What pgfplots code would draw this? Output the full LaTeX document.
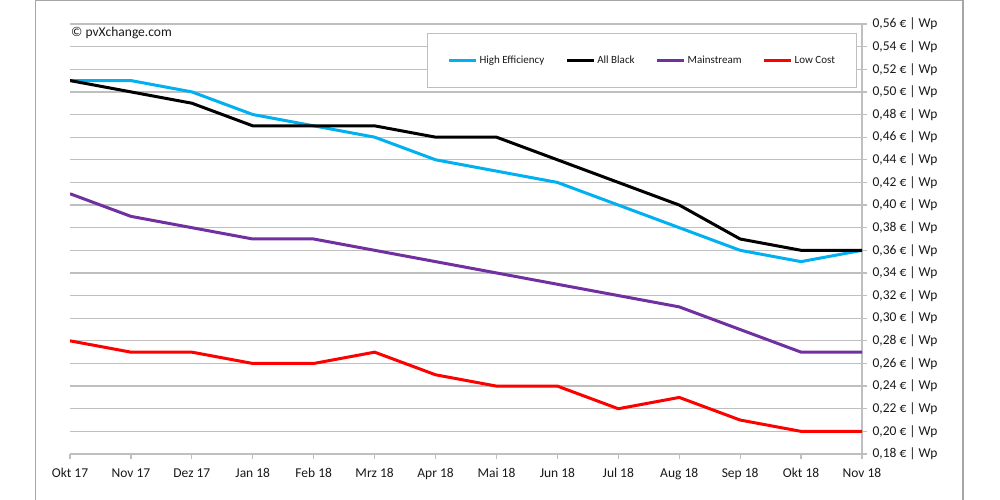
\documentclass[border=0pt]{standalone}
\usepackage{pgfplots}
\pgfplotsset{compat=1.18}
\usepackage{fontspec}
\setmainfont{Carlito}
\definecolor{hieff}{HTML}{00B0F0}
\definecolor{mainst}{HTML}{7030A0}
\definecolor{lowc}{HTML}{FF0000}
\definecolor{gridc}{HTML}{BFBFBF}
\definecolor{framec}{HTML}{A6A6A6}
\begin{document}
\begin{tikzpicture}
\useasboundingbox (0pt,0pt) rectangle (1000pt,500pt);
\draw[framec, line width=1.3pt] (35.5pt,-2pt) -- (35.5pt,499.4pt) -- (963pt,499.4pt) -- (963pt,-2pt);
\node[anchor=west, font=\fontsize{13.5}{15}\selectfont, text=black!90, inner sep=0pt] at (71pt,467pt) {© pvXchange.com};
\begin{axis}[
  at={(70pt,46pt)}, anchor=south west, scale only axis,
  width=792pt, height=430pt,
  xmin=0, xmax=13, ymin=0.18, ymax=0.56,
  axis x line*=bottom, axis y line*=right,
  xtick={0,...,13},
  xticklabels={Okt 17,Nov 17,Dez 17,Jan 18,Feb 18,Mrz 18,Apr 18,Mai 18,Jun 18,Jul 18,Aug 18,Sep 18,Okt 18,Nov 18},
  ytick={0.18,0.20,0.22,0.24,0.26,0.28,0.30,0.32,0.34,0.36,0.38,0.40,0.42,0.44,0.46,0.48,0.50,0.52,0.54,0.56},
  yticklabel={\pgfmathprintnumber[fixed,fixed zerofill,precision=2,use comma,assume math mode=true]{\tick}~€ | Wp},
  ymajorgrids, grid style={gridc, line width=1.3pt},
  axis line style={gridc, line width=1.3pt},
  tick style={gridc, line width=1.3pt},
  tick align=outside, major tick length=5pt,
  ticklabel style={font=\fontsize{13.5}{15}\selectfont, text=black!90},
  x tick label style={yshift=-6pt},
  y tick label style={xshift=2pt},
  legend columns=4,
  legend style={at={(0.4508,0.979)}, anchor=north west, draw=gridc, line width=1pt,
    font=\fontsize{11}{13}\selectfont, text=black!90, inner xsep=20pt, inner ysep=20.5pt,
    /tikz/every even column/.append style={column sep=19pt}},
  legend image code/.code={\draw[#1, line width=3pt] (0pt,0pt) -- (27pt,0pt);},
  every axis plot/.append style={line width=3pt, no marks, line join=round},
]
\addplot[hieff] coordinates {(0,0.51) (1,0.51) (2,0.50) (3,0.48) (4,0.47) (5,0.46) (6,0.44) (7,0.43) (8,0.42) (9,0.40) (10,0.38) (11,0.36) (12,0.35) (13,0.36)};
\addlegendentry{High Efficiency}
\addplot[black] coordinates {(0,0.51) (1,0.50) (2,0.49) (3,0.47) (4,0.47) (5,0.47) (6,0.46) (7,0.46) (8,0.44) (9,0.42) (10,0.40) (11,0.37) (12,0.36) (13,0.36)};
\addlegendentry{All Black}
\addplot[mainst] coordinates {(0,0.41) (1,0.39) (2,0.38) (3,0.37) (4,0.37) (5,0.36) (6,0.35) (7,0.34) (8,0.33) (9,0.32) (10,0.31) (11,0.29) (12,0.27) (13,0.27)};
\addlegendentry{Mainstream}
\addplot[lowc] coordinates {(0,0.28) (1,0.27) (2,0.27) (3,0.26) (4,0.26) (5,0.27) (6,0.25) (7,0.24) (8,0.24) (9,0.22) (10,0.23) (11,0.21) (12,0.20) (13,0.20)};
\addlegendentry{Low Cost}
\end{axis}
\end{tikzpicture}
\end{document}
